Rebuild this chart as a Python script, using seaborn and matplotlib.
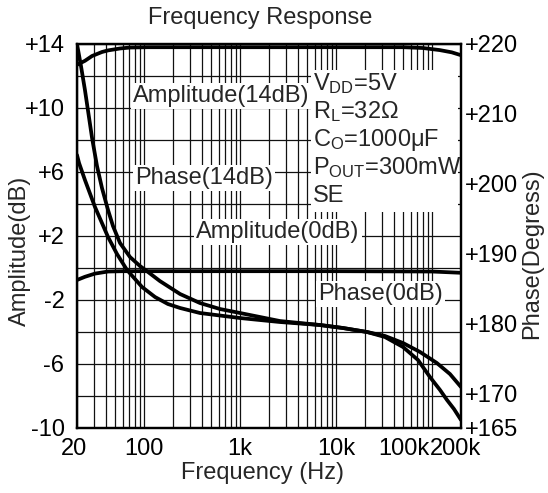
import matplotlib
matplotlib.use("Agg")
import matplotlib.pyplot as plt
import matplotlib.transforms as mtransforms
from matplotlib.ticker import FixedLocator, NullFormatter
from matplotlib.patches import Rectangle
import seaborn as sns
import pandas as pd

# ---------------- data ----------------
freq_amp14 = [20, 24.2, 28.7, 36.4, 42.1, 56.1, 71.3, 110, 1000, 10000, 50000, 80000, 120000, 160000, 200000]
amp14 = [12.7, 12.95, 13.25, 13.5, 13.6, 13.72, 13.78, 13.8, 13.8, 13.8, 13.8, 13.75, 13.62, 13.48, 13.3]

freq_amp0 = [20, 24.2, 30.8, 42.1, 60, 100, 1000, 10000, 100000, 200000]
amp0 = [-0.75, -0.55, -0.35, -0.22, -0.2, -0.2, -0.2, -0.2, -0.22, -0.3]

freq_ph14 = [20, 22.0, 24.2, 28.7, 32.3, 36.4, 42.1, 47.4, 56.1, 71.3, 90.6, 110, 146, 237, 382,
             618, 1000, 2600, 6800, 11800, 21000, 32300, 49800, 71300, 95000, 121000, 143000, 169000, 200000]
phase14 = [220.0, 216.85, 213.41, 206.54, 202.53, 199.38, 196.22, 193.93, 191.5, 189.49, 188.2, 187.34,
           186.05, 184.19, 182.9, 182.04, 181.47, 180.32, 179.75, 179.32, 178.75, 178.03, 176.6, 174.74,
           172.3, 170.44, 169.01, 167.72, 166.15]

freq_ph0 = [20, 21.0, 24.2, 30.8, 42.1, 52.2, 66.4, 95.1, 130, 177, 237, 382, 1000, 2600, 6800,
            11800, 21000, 32300, 49800, 74800, 112000, 153500, 200000]
phase0 = [204.1, 202.96, 200.52, 196.65, 192.36, 189.92, 187.63, 185.2, 183.76, 182.76, 182.19, 181.47,
          180.75, 180.18, 179.75, 179.32, 178.75, 178.18, 177.17, 175.89, 174.31, 172.73, 170.87]

amp_ticks = [-10, -6, -2, 2, 6, 10, 14]
amp_tick_labels = ["-10", "-6", "-2", "+2", "+6", "+10", "+14"]
amp_minor = [-8, -4, 0, 4, 8, 12]
phase_ticks = [165, 170, 180, 190, 200, 210, 220]
phase_tick_labels = ["+165", "+170", "+180", "+190", "+200", "+210", "+220"]
freq_ticks = [20, 100, 1000, 10000, 100000, 200000]
freq_tick_labels = ["20", "100", "1k", "10k", "100k", "200k"]
freq_minor = [d * m for d in (10, 100, 1000, 10000, 100000) for m in range(1, 10)]
freq_minor = [f for f in freq_minor if 20 < f < 200000 and f not in freq_ticks]

curve_labels = ["Amplitude(14dB)", "Phase(14dB)", "Amplitude(0dB)", "Phase(0dB)"]
cond = [r"V$_{\mathrm{DD}}$=5V", r"R$_{\mathrm{L}}$=32Ω", r"C$_{\mathrm{O}}$=1000μF",
        r"P$_{\mathrm{OUT}}$=300mW", "SE"]

# ---------------- style ----------------
sns.set_style("white")
plt.rcParams["font.family"] = ["Liberation Sans", "DejaVu Sans"]
plt.rcParams["mathtext.fontset"] = "custom"
plt.rcParams["mathtext.rm"] = "Liberation Sans"
plt.rcParams["mathtext.it"] = "Liberation Sans"
FS = 17

fig = plt.figure(figsize=(5.48, 4.93), dpi=100)
ax = fig.add_axes([77 / 548, 1 - 428 / 493, 384 / 548, 384 / 493])
ax2 = ax.twinx()

df14 = pd.DataFrame({"f": freq_amp14, "v": amp14})
df0 = pd.DataFrame({"f": freq_amp0, "v": amp0})
dp14 = pd.DataFrame({"f": freq_ph14, "v": phase14})
dp0 = pd.DataFrame({"f": freq_ph0, "v": phase0})

lw = 2.7
sns.lineplot(data=df14, x="f", y="v", ax=ax, color="black", lw=lw, zorder=5)
sns.lineplot(data=df0, x="f", y="v", ax=ax, color="black", lw=lw, zorder=5)
sns.lineplot(data=dp14, x="f", y="v", ax=ax2, color="black", lw=lw, zorder=5)
sns.lineplot(data=dp0, x="f", y="v", ax=ax2, color="black", lw=lw, zorder=5)

for a in (ax, ax2):
    a.set_xscale("log")
    a.set_xlim(20, 200000)
    a.set_xlabel("")
    a.set_ylabel("")

ax.set_ylim(-10, 14)
ax2.set_ylim(165, 220)

# grid
ax.xaxis.set_major_locator(FixedLocator(freq_ticks))
ax.xaxis.set_minor_locator(FixedLocator(freq_minor))
ax.xaxis.set_minor_formatter(NullFormatter())
ax.set_xticklabels(freq_tick_labels)
ax.set_yticks(amp_ticks)
ax.set_yticklabels(amp_tick_labels)
ax.yaxis.set_minor_locator(FixedLocator(amp_minor))
ax.grid(True, which="both", color="#111111", lw=0.9, zorder=0)
ax.set_axisbelow(True)

ax2.set_yticks(phase_ticks)
ax2.set_yticklabels(phase_tick_labels)
ax2.grid(False)

ax.tick_params(axis="both", which="both", length=0, labelsize=FS, colors="black")
ax.tick_params(axis="y", pad=9)
ax.tick_params(axis="x", pad=7)
ax2.tick_params(axis="y", which="both", length=0, labelsize=FS, pad=3, colors="black")

for a in (ax, ax2):
    for s in a.spines.values():
        s.set_color("black")
        s.set_linewidth(1.6)

# shift crowded x tick labels
offsets = {"100k": -28, "200k": -6, "20": -3}
for lab in ax.get_xticklabels():
    dx = offsets.get(lab.get_text(), 0)
    if dx:
        lab.set_transform(lab.get_transform() + mtransforms.ScaledTranslation(dx / 100, 0, fig.dpi_scale_trans))

# axis labels
ax.set_ylabel("Amplitude(dB)", fontsize=FS)
ax.yaxis.set_label_coords(-0.148, 0.46)
ax.yaxis.label.set_va("center")
ax2.set_ylabel("Phase(Degress)", fontsize=FS)
ax2.yaxis.set_label_coords(1.185, 0.455)
ax2.yaxis.label.set_va("center")
ax.set_xlabel("Frequency (Hz)", fontsize=FS)
ax.xaxis.set_label_coords(0.484, -0.118)
ax.xaxis.label.set_va("center")

fig.text(260 / 548, 1 - 18 / 493, "Frequency Response", fontsize=FS, ha="center", va="center")

# curve labels (white background hides grid)
box = dict(facecolor="white", edgecolor="none", pad=1.5)
label_pos = [(133, 96), (135, 178), (196, 232), (318, 294)]
for (xp, yp), s in zip(label_pos, curve_labels):
    fig.text(xp / 548, 1 - yp / 493, s, fontsize=FS, ha="left", va="center", bbox=box, zorder=3)

# condition block
ax.add_patch(Rectangle(((311 - 77) / 384, (428 - 212) / 384), (458 - 311) / 384, (212 - 70) / 384,
                       transform=ax.transAxes, facecolor="white", edgecolor="none", zorder=2))
for i, s in enumerate(cond):
    fig.text(313 / 548, 1 - (84 + 28 * i) / 493, s, fontsize=FS, ha="left", va="center", zorder=3)

fig.savefig("out.png", dpi=100)
